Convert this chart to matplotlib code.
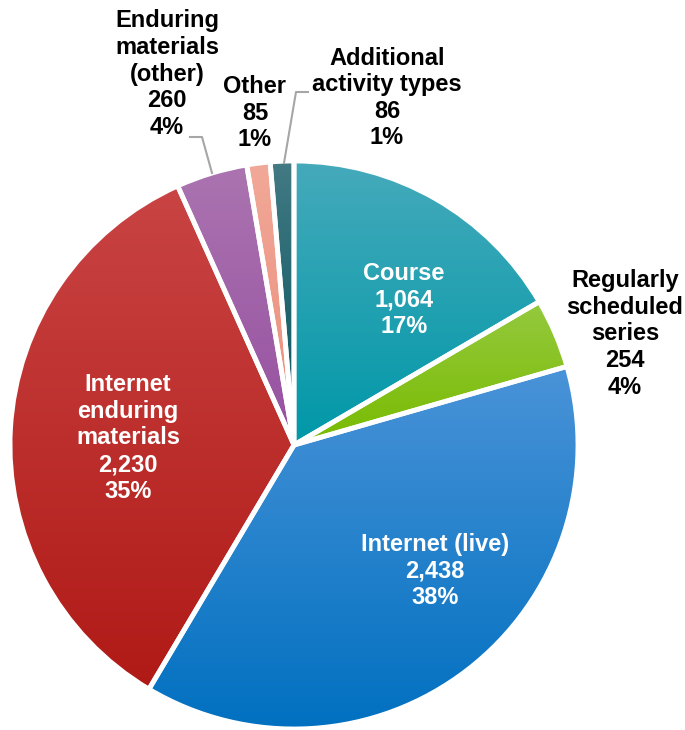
import numpy as np
import matplotlib.pyplot as plt
from matplotlib.colors import to_rgb

# -------- Data --------
names = ['Course',
         'Regularly\nscheduled\nseries',
         'Internet (live)',
         'Internet\nenduring\nmaterials',
         'Enduring\nmaterials\n(other)',
         'Other',
         'Additional\nactivity types']
values = [1064, 254, 2438, 2230, 260, 85, 86]

# gradient colours, top -> bottom
tops = ['#45aabb', '#95c93f', '#4a93d8', '#c94444', '#ab74b0', '#f2a898', '#437a84']
bottoms = ['#0098a8', '#78bb00', '#0070c0', '#b01a16', '#9650a0', '#e98c7a', '#04525c']

# label layout (pixel coords, y from top)
label_pos = [(404, 300), (625, 334), (435, 571), (128, 438),
             (167, 74), (255, 113), (387, 98)]
label_col = ['white', 'black', 'white', 'white', 'black', 'black', 'black']

W, H = 685, 730
fig = plt.figure(figsize=(W / 100, H / 100), dpi=100)
ax = fig.add_axes([0, 0, 1, 1])

cx, cy, r = 294, H - 445, 284
wedges, _ = ax.pie(values, center=(cx, cy), radius=r,
                   startangle=90, counterclock=False,
                   wedgeprops=dict(edgecolor='white', linewidth=3.5))

for w, c1, c2 in zip(wedges, tops, bottoms):
    verts = w.get_path().vertices
    y0, y1 = verts[:, 1].min(), verts[:, 1].max()
    x0, x1 = verts[:, 0].min(), verts[:, 0].max()
    t = np.linspace(0, 1, 256)[:, None]
    grad = (1 - t) * np.array(to_rgb(c1)) + t * np.array(to_rgb(c2))
    img = ax.imshow(grad[:, None, :], extent=(x0, x1, y0, y1),
                    origin='upper', aspect='auto', zorder=0.5)
    img.set_clip_path(w)
    w.set_facecolor('none')
    w.set_zorder(1)

total = sum(values)
for name, v, (px, py), col in zip(names, values, label_pos, label_col):
    txt = f'{name}\n{v:,}\n{round(v / total * 100)}%'
    ax.text(px, H - py, txt, ha='center', va='center', color=col,
            fontsize=17, fontweight='bold', family='Liberation Sans',
            linespacing=1.2, zorder=3)

# leader lines
ax.plot([190, 202, 212], [H - 137, H - 137, H - 173], color='#a6a6a6', lw=1.5, zorder=2)
ax.plot([308, 296, 284], [H - 92, H - 92, H - 163], color='#a6a6a6', lw=1.5, zorder=2)

ax.set_xlim(0, W)
ax.set_ylim(0, H)
ax.set_aspect('auto')
ax.axis('off')

plt.savefig('out.png', dpi=100)
